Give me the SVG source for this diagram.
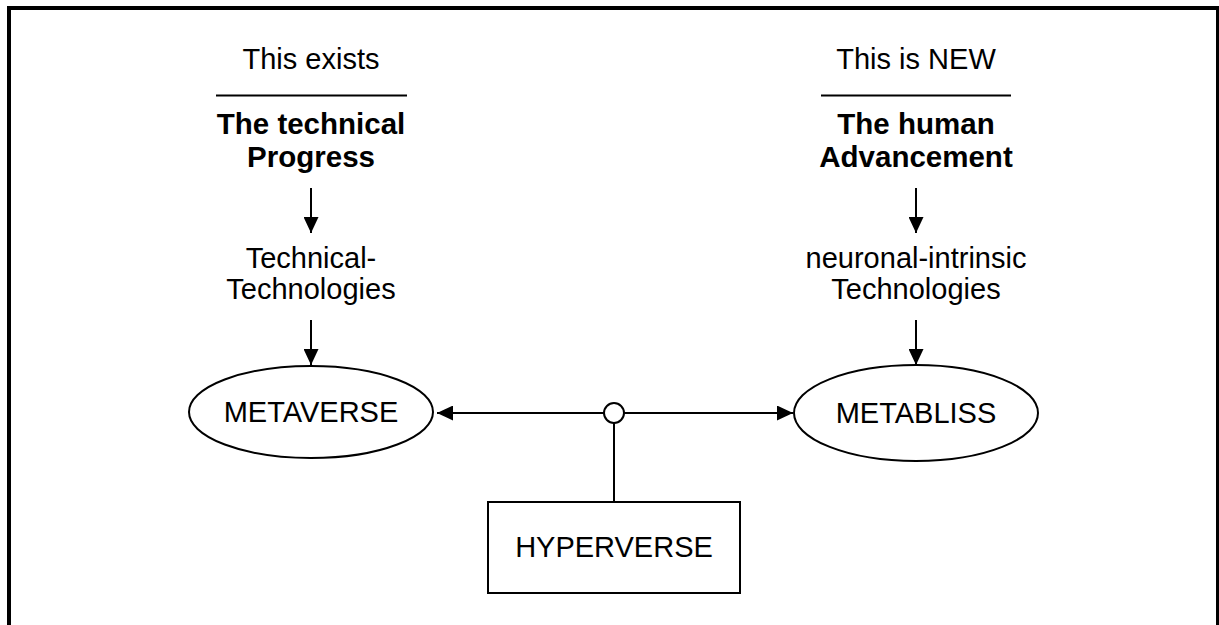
<svg xmlns="http://www.w3.org/2000/svg" width="1219" height="625" viewBox="0 0 1219 625">
<style>
.t{font-family:"Liberation Sans",Arial,sans-serif;font-size:29px;fill:#000;text-anchor:middle}
.b{font-weight:bold;font-size:29.5px}
.ln{stroke:#000;stroke-width:2;fill:none}
.sh{stroke:#000;stroke-width:2;fill:#fff}
</style>
<defs>
<marker id="ah" viewBox="0 0 16 15" refX="16" refY="7.5" markerWidth="16" markerHeight="15" markerUnits="userSpaceOnUse" orient="auto-start-reverse">
<path d="M0,0 L16,7.5 L0,15 Z" fill="#000"/>
</marker>
</defs>
<rect x="9" y="8" width="1209" height="700" fill="#fff" stroke="#000" stroke-width="4"/>
<g id="left-header">
<text class="t" x="311" y="69">This exists</text>
<line class="ln" x1="216" y1="95.5" x2="407" y2="95.5" stroke-width="1.5"/>
<text class="t b" x="311" y="134">The technical</text>
<text class="t b" x="311" y="167">Progress</text>
</g>
<g id="left-tech">
<text class="t" x="311" y="268">Technical-</text>
<text class="t" x="311" y="299">Technologies</text>
</g>
<g id="right-header">
<text class="t" x="916" y="69">This is NEW</text>
<line class="ln" x1="821" y1="95.5" x2="1011" y2="95.5" stroke-width="1.5"/>
<text class="t b" x="916" y="134">The human</text>
<text class="t b" x="916" y="167">Advancement</text>
</g>
<g id="right-tech">
<text class="t" x="916" y="268">neuronal-intrinsic</text>
<text class="t" x="916" y="299">Technologies</text>
</g>
<g id="metaverse">
<ellipse class="sh" cx="311" cy="412" rx="122" ry="46"/>
<text class="t" x="311" y="422">METAVERSE</text>
</g>
<g id="metabliss">
<ellipse class="sh" cx="916" cy="413" rx="122" ry="48"/>
<text class="t" x="916" y="423">METABLISS</text>
</g>
<g id="hyperverse">
<rect class="sh" x="488" y="502" width="252" height="91"/>
<text class="t" x="614" y="557">HYPERVERSE</text>
</g>
<g id="connectors">
<line class="ln" x1="311" y1="188" x2="311" y2="233" marker-end="url(#ah)"/>
<line class="ln" x1="311" y1="320" x2="311" y2="365" marker-end="url(#ah)"/>
<line class="ln" x1="916" y1="188" x2="916" y2="233" marker-end="url(#ah)"/>
<line class="ln" x1="916" y1="320" x2="916" y2="365" marker-end="url(#ah)"/>
<line class="ln" x1="437" y1="413" x2="793" y2="413" marker-start="url(#ah)" marker-end="url(#ah)"/>
<line class="ln" x1="614" y1="423" x2="614" y2="502"/>
<circle class="sh" cx="614" cy="413" r="10"/>
</g>
</svg>
